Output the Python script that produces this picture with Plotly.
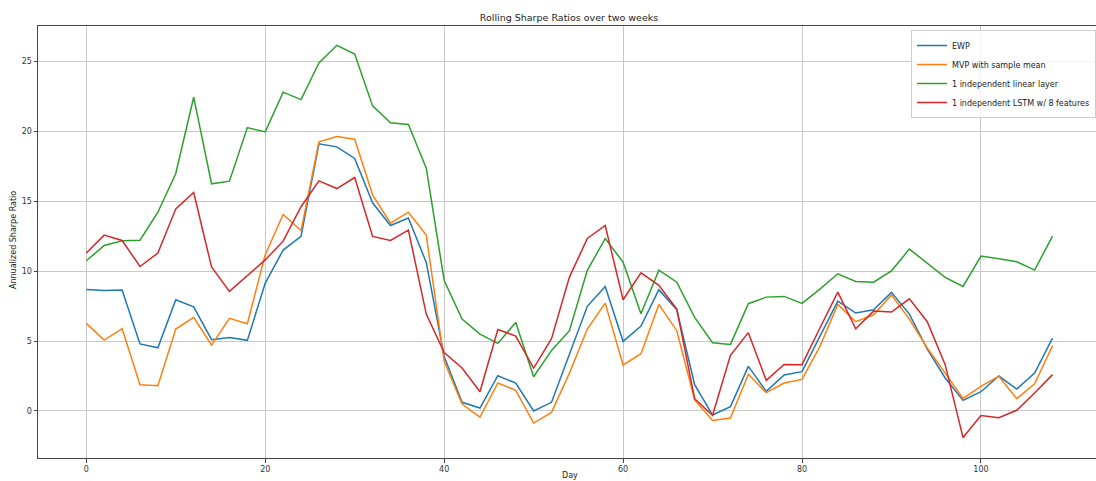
import plotly.graph_objects as go

days = list(range(0, 110, 2))

ewp = [8.69, 8.62, 8.64, 4.79, 4.52, 7.95, 7.45, 5.10, 5.26, 5.05,
       9.14, 11.5, 12.48, 19.1, 18.88, 18.05, 14.88, 13.26, 13.79, 10.62,
       3.9, 0.62, 0.21, 2.52, 2.0, 0.0, 0.62, 4.0, 7.48, 8.9,
       4.98, 6.07, 8.67, 7.24, 1.88, -0.29, 0.31, 3.19, 1.4, 2.57,
       2.81, 5.33, 7.86, 7.0, 7.24, 8.48, 6.93, 4.43, 2.36, 0.76,
       1.38, 2.5, 1.57, 2.71, 5.21]

mvp = [6.26, 5.07, 5.88, 1.88, 1.81, 5.86, 6.69, 4.71, 6.62, 6.24,
       11.17, 14.05, 12.9, 19.24, 19.62, 19.43, 15.45, 13.43, 14.21, 12.57,
       3.55, 0.5, -0.43, 2.0, 1.48, -0.86, -0.1, 2.71, 5.86, 7.71,
       3.29, 4.1, 7.62, 5.74, 0.79, -0.67, -0.5, 2.62, 1.31, 2.0,
       2.26, 4.62, 7.62, 6.38, 6.88, 8.29, 6.57, 4.5, 2.71, 0.9,
       1.76, 2.48, 0.88, 1.95, 4.67]

linear = [10.74, 11.83, 12.17, 12.21, 14.21, 16.98, 22.43, 16.24, 16.43, 20.26,
          19.95, 22.79, 22.26, 24.88, 26.14, 25.52, 21.81, 20.60, 20.48, 17.36,
          9.33, 6.57, 5.5, 4.83, 6.33, 2.45, 4.33, 5.74, 10.05, 12.33,
          10.64, 6.95, 10.07, 9.21, 6.69, 4.88, 4.76, 7.67, 8.14, 8.19,
          7.69, 8.71, 9.81, 9.26, 9.21, 10.02, 11.57, 10.57, 9.55, 8.9,
          11.07, 10.88, 10.67, 10.07, 12.5]

lstm = [11.29, 12.57, 12.19, 10.33, 11.29, 14.45, 15.62, 10.29, 8.55, 9.7,
        10.8, 12.14, 14.6, 16.45, 15.9, 16.69, 12.48, 12.19, 12.93, 6.93,
        4.17, 3.07, 1.38, 5.83, 5.36, 3.07, 5.17, 9.57, 12.33, 13.26,
        7.95, 9.88, 8.98, 7.29, 0.88, -0.31, 3.98, 5.6, 2.19, 3.33,
        3.31, 5.93, 8.5, 5.88, 7.14, 7.07, 8.02, 6.38, 3.31, -1.9,
        -0.33, -0.48, 0.05, 1.29, 2.6]

series_names = ["EWP", "MVP with sample mean", "1 independent linear layer",
                "1 independent LSTM w/ 8 features"]
series_values = [ewp, mvp, linear, lstm]
colors = ["#1f77b4", "#ff7f0e", "#2ca02c", "#d62728"]

x_ticks = [0, 20, 40, 60, 80, 100]
y_ticks = [0, 5, 10, 15, 20, 25]

FONT = "DejaVu Sans"

fig = go.Figure()
for name, vals, col in zip(series_names, series_values, colors):
    fig.add_trace(go.Scatter(x=days, y=vals, mode="lines", name=name,
                             line=dict(color=col, width=1.5)))

W, H = 1096, 481
L, R, T, B = 38, 0, 26, 23
plot_w = W - L - R
plot_h = H - T - B

fig.update_layout(
    width=W, height=H,
    margin=dict(l=L, r=R, t=T, b=B, pad=0, autoexpand=False),
    paper_bgcolor="white", plot_bgcolor="white",
    font=dict(family=FONT, size=8, color="#333333"),
    title=dict(text="Rolling Sharpe Ratios over two weeks",
               x=(569 - L) / plot_w, xref="paper", xanchor="center",
               y=1 - 18 / H, yref="container", yanchor="middle",
               font=dict(family=FONT, size=9.5, color="#222222")),
    showlegend=True,
    legend=dict(x=1.0, y=(H - B - 30) / plot_h,
                xanchor="right", yanchor="top",
                bgcolor="rgba(255,255,255,0.8)", bordercolor="#cccccc",
                borderwidth=1, font=dict(family=FONT, size=8, color="#222222"),
                itemwidth=30, tracegroupgap=0),
    xaxis=dict(range=[-5.40, 112.86], tickvals=x_ticks, automargin=False,
               showgrid=True, gridcolor="#c8c8c8", gridwidth=1,
               zeroline=False, showline=True, linecolor="#444444", linewidth=1,
               mirror=True, ticks="outside", ticklen=3.5, tickcolor="#444444",
               tickfont=dict(family=FONT, size=8, color="#333333")),
    yaxis=dict(range=[-3.36, 27.52], tickvals=y_ticks, automargin=False,
               showgrid=True, gridcolor="#c8c8c8", gridwidth=1,
               zeroline=False, showline=True, linecolor="#444444", linewidth=1,
               mirror=False, ticks="outside", ticklen=3.5, tickcolor="#444444",
               tickfont=dict(family=FONT, size=8, color="#333333")),
    annotations=[
        dict(text="Annualized Sharpe Ratio", xref="paper", yref="paper",
             x=(13 - L) / plot_w, y=(H - B - 240) / plot_h, textangle=-90,
             showarrow=False, xanchor="center", yanchor="middle",
             font=dict(family=FONT, size=8, color="#222222")),
        dict(text="Day", xref="paper", yref="paper",
             x=(570 - L) / plot_w, y=-(475 - (H - B)) / plot_h,
             showarrow=False, xanchor="center", yanchor="middle",
             font=dict(family=FONT, size=8, color="#222222")),
    ],
)

fig.write_html(
    "out.html",
    config={"displayModeBar": False},
    post_script="document.body.style.margin='0';document.body.style.overflow='hidden';",
)
